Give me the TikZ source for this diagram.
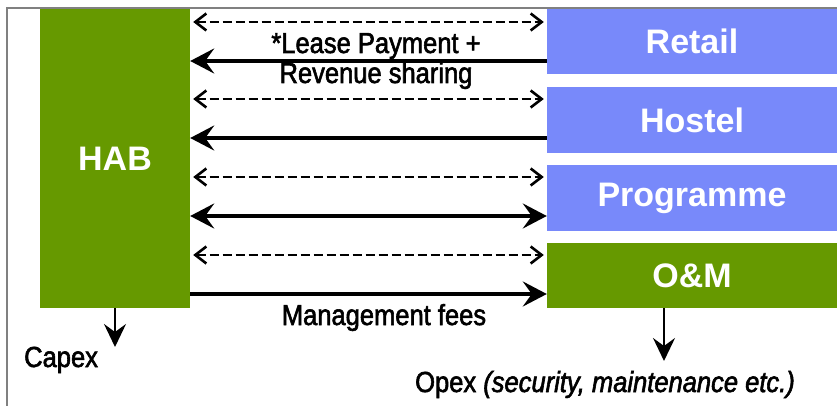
\documentclass[tikz,border=0pt]{standalone}
\usepackage{fontspec}
\setmainfont{Liberation Sans}
\newfontfamily\narrowfont[FakeStretch=0.88,FakeBold=2]{Liberation Sans}
\usetikzlibrary{arrows.meta}
\definecolor{habgreen}{RGB}{102,153,0}
\definecolor{boxblue}{RGB}{120,137,250}
\definecolor{framegray}{RGB}{128,128,128}
\begin{document}
\begin{tikzpicture}[x=1pt,y=-1pt,
  box/.style={draw=none,inner sep=0pt,text=white,font=\bfseries\fontsize{34}{40}\selectfont},
  greenbox/.style={box,fill=habgreen},
  bluebox/.style={box,fill=boxblue},
  lbl/.style={inner sep=0pt,font=\narrowfont\fontsize{29}{32}\selectfont},
  dasharrow/.style={line width=2.6pt,dash pattern=on 9pt off 4pt,{Straight Barb[length=11pt,width=17pt,line width=2.6pt]}-{Straight Barb[length=11pt,width=17pt,line width=2.6pt]}},
  solid/.style={line width=3.5pt},
  downarrow/.style={line width=2pt,-{Stealth[length=23pt,width=22pt,inset=8pt]}}
]
\useasboundingbox (0,0) rectangle (837,406);
\draw[framegray,line width=2pt] (7,406) -- (7,8) -- (837,8);

\node[greenbox,minimum width=150pt,minimum height=299pt] (hab) at (115,158.5) {HAB};
\node[bluebox,minimum width=290pt,minimum height=65pt] (retail) at (692,41.5) {Retail};
\node[bluebox,minimum width=290pt,minimum height=66pt] (hostel) at (692,120) {Hostel};
\node[bluebox,minimum width=290pt,minimum height=66pt] (prog) at (692,198) {Programme};
\node[greenbox,minimum width=290pt,minimum height=65pt] (om) at (692,275.5) {O\&M};

% dashed two-way arrows
\draw[dasharrow] ([xshift=3pt]hab.east |- 0,22) -- ([xshift=-3pt]retail.west |- 0,22);
\draw[dasharrow] ([xshift=3pt]hab.east |- 0,99) -- ([xshift=-3pt]hostel.west |- 0,99);
\draw[dasharrow] ([xshift=3pt]hab.east |- 0,177) -- ([xshift=-3pt]prog.west |- 0,177);
\draw[dasharrow] ([xshift=3pt]hab.east |- 0,255) -- ([xshift=-3pt]om.west |- 0,255);

% solid arrows
\draw[solid,-{Stealth[length=24pt,width=25pt,inset=9pt]}] (retail.west |- 0,61) -- (hab.east |- 0,61);
\draw[solid,-{Stealth[length=24pt,width=25pt,inset=9pt]}] (hostel.west |- 0,138) -- (hab.east |- 0,138);
\draw[solid,{Stealth[length=24pt,width=25pt,inset=9pt]}-{Stealth[length=24pt,width=25pt,inset=9pt]}] (hab.east |- 0,216) -- (prog.west |- 0,216);
\draw[solid,-{Stealth[length=24pt,width=25pt,inset=9pt]}] (hab.east |- 0,294) -- (om.west |- 0,294);

% labels
\node[lbl,anchor=base] (lease) at (376,53) {*Lease Payment +};
\node[lbl,anchor=base] (revenue) at (376,83) {Revenue sharing};
\node[lbl,anchor=base] (mgmt) at (384,325) {Management fees};

% down arrows
\coordinate (capexend) at (115,347);
\coordinate (opextop) at (664,308);
\coordinate (opexend) at (664,361);
\draw[downarrow] (hab.south) -- (capexend);
\draw[downarrow] (opextop) -- (opexend);
\node[lbl,anchor=base west] (capex) at (24,367) {Capex};
\node[lbl,anchor=base west] (opex) at (415,392) {Opex \itshape(security, maintenance etc.)};
\end{tikzpicture}
\end{document}
